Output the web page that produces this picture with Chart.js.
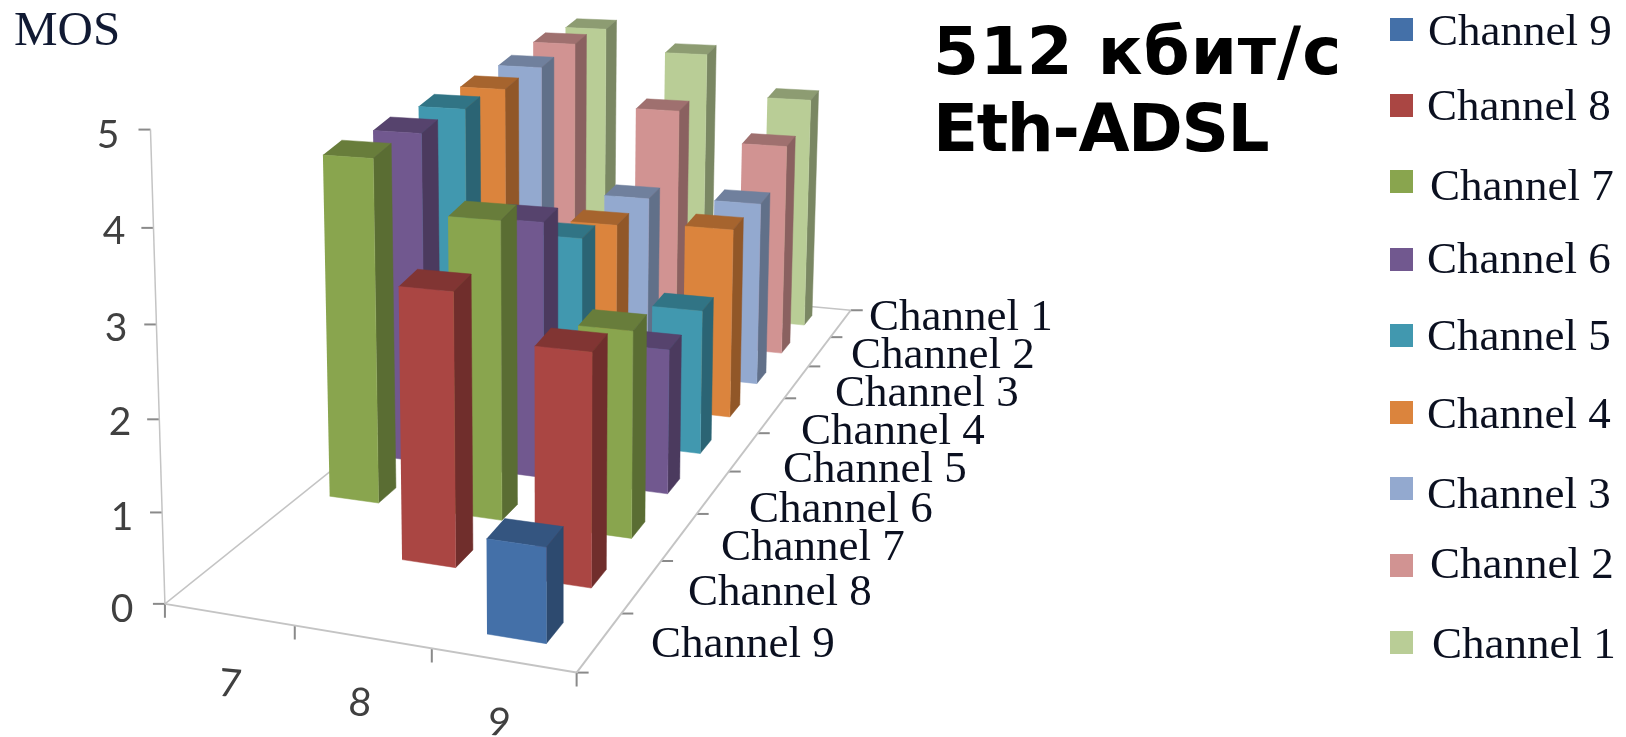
<!DOCTYPE html>
<html>
<head>
<meta charset="utf-8">
<title>MOS 512 кбит/с Eth-ADSL</title>
<script src="https://cdn.jsdelivr.net/npm/chart.js@4"></script>
<style>
  body { margin: 0; background: #fff; }
  canvas { display: block; }
</style>
</head>
<body>
<canvas id="canvas" width="1626" height="737"></canvas>
<script>
// data
const categories = ['7', '8', '9'];
const mosTicks = [0, 1, 2, 3, 4, 5];
const channels = ['Channel 9', 'Channel 8', 'Channel 7', 'Channel 6', 'Channel 5', 'Channel 4', 'Channel 3', 'Channel 2', 'Channel 1'];
const channel9 = [null, null, 1.0];
const channel8 = [null, 3.06, 2.56];
const channel7 = [4.09, 3.49, 2.38];
const channel6 = [4.1, 3.14, 1.75];
const channel5 = [4.13, 2.6, 1.82];
const channel4 = [4.13, 2.43, 2.49];
const channel3 = [4.18, 2.46, 2.5];
const channel2 = [4.28, 3.4, 2.99];
const channel1 = [4.28, 3.97, 3.38];
const seriesValues = [channel9, channel8, channel7, channel6, channel5, channel4, channel3, channel2, channel1];
const seriesColors = ['#4470a8', '#aa4643', '#89a54e', '#71588f', '#4198af', '#db843d', '#93a9cf', '#d19392', '#b9cd96'];

// the 3d view: where the bar lattice lands on the page
const corners = [[216, 590], [487, 634], [762, 321], [565, 302]];
const unitHeight = 89.3;
const heightBow = 0.0095;
const leanCentre = 550;
const lean = 0.0075;
const barWidth = 0.41;
const barDepth = 0.36;
const floorMinI = -0.22, floorMaxI = 2.725, floorMinJ = -0.35, floorMaxJ = 8.68;

const [c0, c1, c2, c3] = corners;
const dx1 = c1[0] - c2[0], dx2 = c3[0] - c2[0], sx = c0[0] - c1[0] + c2[0] - c3[0];
const dy1 = c1[1] - c2[1], dy2 = c3[1] - c2[1], sy = c0[1] - c1[1] + c2[1] - c3[1];
const det = dx1 * dy2 - dx2 * dy1;
const g = (sx * dy2 - dx2 * sy) / det;
const h = (dx1 * sy - sx * dy1) / det;
const a = c1[0] - c0[0] + g * c1[0], b = c3[0] - c0[0] + h * c3[0];
const d = c1[1] - c0[1] + g * c1[1], e = c3[1] - c0[1] + h * c3[1];

// heightJ: depth whose vertical scale is used, so a bar's top stays as deep as in the picture
function project(i, j, v, heightJ) {
  const s = i / 2, t = j / 8;
  const w = g * s + h * t + 1;
  const wh = heightJ === undefined ? w : g * s + h * heightJ / 8 + 1;
  const x = (a * s + b * t + c0[0]) / w;
  const y = (d * s + e * t + c0[1]) / w;
  return { x: x + (x - leanCentre) * v * lean, y: y - v * (1 + heightBow * v) * unitHeight / wh };
}

function darken(hex, f) {
  const n = parseInt(hex.slice(1), 16);
  const r = Math.round((n >> 16) * f), gr = Math.round(((n >> 8) & 255) * f), bl = Math.round((n & 255) * f);
  return 'rgb(' + r + ',' + gr + ',' + bl + ')';
}

function face(label, points, color) {
  return {
    label: label, data: points, showLine: true, fill: 'shape', backgroundColor: color,
    borderColor: color, borderWidth: 0.5, pointRadius: 0, pointHoverRadius: 0
  };
}

function line(label, points, color, width) {
  return {
    label: label, data: points, showLine: true, fill: false, borderColor: color,
    borderWidth: width, pointRadius: 0, pointHoverRadius: 0
  };
}

function barFaces(name, i, j, v, color) {
  const i2 = i + barWidth, j2 = j + barDepth;
  return [
    face(name, [project(i, j, 0), project(i2, j, 0), project(i2, j, v), project(i, j, v)], color),
    face(name, [project(i2, j, 0), project(i2, j2, 0), project(i2, j2, v, j), project(i2, j, v)], darken(color, 0.66)),
    face(name, [project(i, j, v), project(i2, j, v), project(i2, j2, v, j), project(i, j2, v, j)], darken(color, 0.76))
  ];
}

// chart.js paints the first dataset on top, so the front bars go in first
const barDatasets = [];
seriesValues.forEach(function(values, j) {
  for (let i = values.length - 1; i >= 0; i--) {
    if (values[i] === null) continue;
    barDatasets.push(...barFaces(channels[j], i, j, values[i], seriesColors[j]));
  }
});

const axisColor = '#c4c4c4';
const tickColor = '#8a8a8a';
const axisDatasets = [
  line('wall', [project(floorMinI, floorMinJ, 0), project(floorMinI, floorMinJ, 5)], axisColor, 1.5),
  line('front', [project(floorMinI, floorMinJ, 0), project(floorMaxI, floorMinJ, 0)], axisColor, 2),
  line('left', [project(floorMinI, floorMinJ, 0), project(floorMinI, floorMaxJ, 0)], axisColor, 1.5),
  line('right', [project(floorMaxI, floorMinJ, 0), project(floorMaxI, floorMaxJ, 0)], axisColor, 2),
  line('back', [project(floorMinI, floorMaxJ, 0), project(floorMaxI, floorMaxJ, 0)], axisColor, 1.5)
];
mosTicks.forEach(function(v) {
  const p = project(floorMinI, floorMinJ, v);
  axisDatasets.push(line('tick', [p, { x: p.x - 12, y: p.y }], tickColor, 2));
});
[0, 1, 2, 3].forEach(function(n) {
  const p = project(floorMinI + n * (floorMaxI - floorMinI) / 3, floorMinJ, 0);
  axisDatasets.push(line('tick', [p, { x: p.x, y: p.y + 14 }], tickColor, 2));
});
channels.concat(['']).forEach(function(name, n) {
  const p = project(floorMaxI, floorMinJ + n * (floorMaxJ - floorMinJ) / 9, 0);
  axisDatasets.push(line('tick', [p, { x: p.x + 12, y: p.y }], tickColor, 2));
});

// text placement
const mosLabelPos = [[122, 609], [122, 517], [120, 422], [116, 328], [114, 231], [108, 135]];
const categoryLabelPos = [[230, 684], [360, 703], [499, 723]];
const channelLabelPos = [[651, 645], [688, 593], [721, 548], [749, 510], [783, 470], [801, 432], [835, 394], [851, 356], [869, 318]];
const legendMarkY = [29, 105, 181, 259, 335, 412, 488, 565, 642];
const legendText = [[1428, 45], [1427, 120], [1430, 200], [1427, 273], [1427, 350], [1427, 428], [1427, 508], [1430, 578], [1432, 658]];
const serif = '45px "Liberation Serif"';

const textPlugin = {
  id: 'textPlugin',
  afterDraw(chart) {
    const ctx = chart.ctx;
    ctx.save();
    ctx.textBaseline = 'alphabetic';
    ctx.textAlign = 'left';
    ctx.fillStyle = '#111a33';
    ctx.font = '49px "Liberation Serif"';
    ctx.fillText('MOS', 14, 45);

    ctx.fillStyle = '#404040';
    ctx.textAlign = 'center';
    ctx.textBaseline = 'middle';
    ctx.font = '39px Lato';
    mosTicks.forEach(function(v, n) {
      ctx.fillText(String(v), mosLabelPos[n][0], mosLabelPos[n][1]);
    });
    categories.forEach(function(c, n) {
      ctx.save();
      ctx.translate(categoryLabelPos[n][0], categoryLabelPos[n][1]);
      ctx.rotate(0.1);
      ctx.fillText(c, 0, 0);
      ctx.restore();
    });

    ctx.fillStyle = '#0b1020';
    ctx.textAlign = 'left';
    ctx.font = serif;
    channels.forEach(function(name, n) {
      ctx.fillText(name, channelLabelPos[n][0], channelLabelPos[n][1]);
    });

    ctx.textBaseline = 'alphabetic';
    channels.forEach(function(name, n) {
      ctx.fillStyle = seriesColors[n];
      ctx.fillRect(1390, legendMarkY[n] - 11, 23, 23);
      ctx.fillStyle = '#0b1020';
      ctx.fillText(name, legendText[n][0], legendText[n][1]);
    });

    ctx.fillStyle = '#000';
    ctx.font = 'bold 66px "DejaVu Sans"';
    ctx.letterSpacing = '1px';
    ctx.fillText('512 кбит/с', 933, 74);
    ctx.letterSpacing = '-1.4px';
    ctx.fillText('Eth-ADSL', 933, 151);
    ctx.restore();
  }
};

const ctx = document.getElementById('canvas').getContext('2d');
const chart = new Chart(ctx, {
  type: 'scatter',
  data: { datasets: barDatasets.concat(axisDatasets) },
  options: {
    responsive: false,
    animation: false,
    events: [],
    layout: { padding: 0 },
    plugins: { legend: { display: false }, tooltip: { enabled: false } },
    scales: {
      x: { type: 'linear', min: 0, max: 1626, display: false },
      y: { type: 'linear', min: 0, max: 737, reverse: true, display: false }
    }
  },
  plugins: [textPlugin]
});
</script>
</body>
</html>
